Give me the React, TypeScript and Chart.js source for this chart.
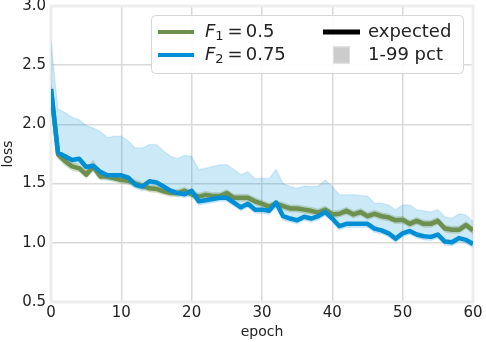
import React, { useEffect, useRef } from "react";
import { Chart, registerables } from "chart.js";
Chart.register(...registerables);

const epochs = [0,1,2,3,4,5,6,7,8,9,10,11,12,13,14,15,16,17,18,19,20,21,22,23,24,25,26,27,28,29,30,31,32,33,34,35,36,37,38,39,40,41,42,43,44,45,46,47,48,49,50,51,52,53,54,55,56,57,58,59,60];

const lossF1 = [2.30,1.745,1.69,1.645,1.63,1.575,1.645,1.56,1.56,1.545,1.53,1.525,1.50,1.48,1.46,1.455,1.435,1.42,1.42,1.44,1.41,1.39,1.405,1.395,1.395,1.42,1.38,1.38,1.38,1.35,1.33,1.305,1.33,1.31,1.29,1.29,1.28,1.27,1.255,1.28,1.24,1.245,1.27,1.24,1.26,1.225,1.245,1.225,1.215,1.19,1.195,1.16,1.185,1.16,1.16,1.185,1.12,1.11,1.11,1.15,1.105];
const lossF1Low = [2.27,1.71,1.65,1.61,1.60,1.545,1.60,1.53,1.53,1.515,1.50,1.495,1.47,1.45,1.43,1.425,1.405,1.39,1.39,1.41,1.38,1.36,1.375,1.365,1.365,1.39,1.35,1.35,1.35,1.32,1.30,1.275,1.30,1.28,1.26,1.26,1.25,1.24,1.225,1.25,1.21,1.215,1.24,1.21,1.23,1.195,1.215,1.195,1.185,1.16,1.165,1.13,1.155,1.13,1.13,1.155,1.09,1.08,1.08,1.12,1.075];
const lossF1High = [2.33,1.78,1.72,1.68,1.66,1.61,1.70,1.59,1.59,1.575,1.56,1.555,1.53,1.51,1.49,1.485,1.465,1.45,1.45,1.47,1.44,1.42,1.435,1.425,1.425,1.45,1.41,1.41,1.41,1.38,1.36,1.335,1.36,1.34,1.32,1.32,1.31,1.30,1.285,1.31,1.27,1.275,1.30,1.27,1.29,1.255,1.275,1.255,1.245,1.22,1.225,1.19,1.215,1.19,1.19,1.215,1.15,1.14,1.14,1.18,1.135];

const lossF2 = [2.30,1.76,1.73,1.70,1.71,1.64,1.65,1.60,1.57,1.57,1.57,1.55,1.49,1.475,1.52,1.51,1.475,1.44,1.42,1.41,1.44,1.35,1.36,1.37,1.38,1.38,1.34,1.30,1.33,1.28,1.28,1.27,1.34,1.225,1.205,1.19,1.22,1.205,1.225,1.26,1.205,1.14,1.16,1.16,1.16,1.16,1.12,1.105,1.08,1.035,1.08,1.10,1.07,1.055,1.05,1.07,1.01,1.005,1.04,1.025,0.99];
const lossF2Low = [2.27,1.72,1.69,1.66,1.67,1.60,1.61,1.56,1.53,1.53,1.53,1.51,1.46,1.44,1.48,1.47,1.44,1.41,1.39,1.38,1.40,1.32,1.33,1.34,1.35,1.35,1.31,1.27,1.30,1.25,1.25,1.24,1.30,1.19,1.175,1.16,1.19,1.175,1.195,1.23,1.175,1.11,1.13,1.13,1.13,1.13,1.09,1.075,1.05,1.005,1.05,1.07,1.04,1.025,1.02,1.04,0.98,0.975,1.01,0.995,0.96];
const lossF2High = [2.70,2.13,2.10,2.06,2.04,1.99,1.97,1.94,1.89,1.90,1.90,1.86,1.80,1.80,1.83,1.83,1.775,1.73,1.71,1.74,1.73,1.62,1.63,1.645,1.66,1.66,1.62,1.575,1.60,1.54,1.545,1.54,1.62,1.50,1.475,1.46,1.48,1.475,1.48,1.53,1.475,1.405,1.405,1.405,1.40,1.395,1.335,1.335,1.32,1.28,1.32,1.32,1.28,1.27,1.26,1.28,1.22,1.205,1.245,1.235,1.18];

const xTicks = [0, 10, 20, 30, 40, 50, 60];
const yTicks = [0.5, 1.0, 1.5, 2.0, 2.5, 3.0];
const seriesNames = ["F1", "F2"];
const seriesSubs = ["1", "2"];
const seriesValues = ["0.5", "0.75"];
const extraLabels = ["expected", "1-99 pct"];

const BLUE = "#008fd5";
const GREEN = "#6d904f";
const FONT = "DejaVu Sans";

const pts = (ys: number[]) => ys.map((y, i) => ({ x: epochs[i], y }));

const framePlugin = {
  id: "frame",
  beforeDatasetsDraw(chart: any) {
    const { ctx, chartArea: a } = chart;
    ctx.save();
    ctx.strokeStyle = "#ededed";
    ctx.lineWidth = 3;
    ctx.strokeRect(a.left, a.top, a.right - a.left, a.bottom - a.top);
    ctx.restore();
  },
};

const legendPlugin = {
  id: "customLegend",
  afterDraw(chart: any) {
    const { ctx, chartArea: a } = chart;
    ctx.save();
    const w = 312, h = 58;
    const x = a.right - 10 - w;
    const y = a.top + 9;
    ctx.beginPath();
    (ctx as any).roundRect(x + 0.5, y + 0.5, w, h, 4);
    ctx.fillStyle = "rgba(255,255,255,0.92)";
    ctx.fill();
    ctx.strokeStyle = "#d6d6d6";
    ctx.lineWidth = 1;
    ctx.stroke();

    const rows = [y + 17, y + 40];
    const colors = [GREEN, BLUE];
    ctx.textBaseline = "middle";
    for (let i = 0; i < 2; i++) {
      const ry = rows[i];
      ctx.strokeStyle = colors[i];
      ctx.lineWidth = 4;
      ctx.beginPath();
      ctx.moveTo(x + 7, ry);
      ctx.lineTo(x + 43, ry);
      ctx.stroke();
      let tx = x + 54;
      ctx.fillStyle = "#222";
      ctx.font = `italic 18px ${FONT}`;
      const f = seriesNames[i].charAt(0);
      ctx.fillText(f, tx, ry);
      tx += ctx.measureText(f).width;
      ctx.font = `13px ${FONT}`;
      ctx.fillText(seriesSubs[i], tx, ry + 5);
      tx += ctx.measureText(seriesSubs[i]).width + 4;
      ctx.font = `18px ${FONT}`;
      ctx.fillText("=", tx, ry);
      tx += ctx.measureText("=").width + 3;
      ctx.fillText(seriesValues[i], tx, ry);
    }
    // expected
    ctx.strokeStyle = "#000";
    ctx.lineWidth = 5;
    ctx.beginPath();
    ctx.moveTo(x + 172, rows[0]);
    ctx.lineTo(x + 209, rows[0]);
    ctx.stroke();
    ctx.fillStyle = "#222";
    ctx.font = `18px ${FONT}`;
    ctx.fillText(extraLabels[0], x + 217, rows[0]);
    // pct patch
    ctx.fillStyle = "#cccccc";
    ctx.fillRect(x + 182, rows[1] - 8.5, 17, 17);
    ctx.strokeStyle = "#dddddd";
    ctx.lineWidth = 1;
    ctx.strokeRect(x + 182.5, rows[1] - 8, 16, 16);
    ctx.fillStyle = "#222";
    ctx.fillText(extraLabels[1], x + 217, rows[1]);
    ctx.restore();
  },
};

export default function App() {
  const ref = useRef<HTMLCanvasElement | null>(null);
  useEffect(() => {
    document.body.style.margin = "0";
    const canvas = ref.current!;
    const chart = new Chart(canvas, {
      type: "line",
      data: {
        datasets: [
          { label: "F2 line", data: pts(lossF2), borderColor: BLUE, borderWidth: 4.5, fill: false, order: 0 } as any,
          { label: "F1 line", data: pts(lossF1), borderColor: GREEN, borderWidth: 4.5, fill: false, order: 1 },
          { label: "F1 high", data: pts(lossF1High), borderColor: "rgba(109,144,79,0.15)", borderWidth: 1, backgroundColor: "rgba(109,144,79,0.28)", fill: "+1", order: 2 },
          { label: "F1 low", data: pts(lossF1Low), borderColor: "rgba(109,144,79,0.15)", borderWidth: 1, fill: false, order: 3 },
          { label: "F2 high", data: pts(lossF2High), borderColor: "rgba(0,143,213,0.12)", borderWidth: 1.5, backgroundColor: "rgba(0,143,213,0.2)", fill: "+1", order: 4 },
          { label: "F2 low", data: pts(lossF2Low), borderColor: "rgba(0,143,213,0.12)", borderWidth: 1.5, fill: false, order: 5 },
        ],
      },
      options: {
        animation: false,
        responsive: false,
        layout: { padding: { top: 6, right: 13, left: 0, bottom: 0 } },
        plugins: { legend: { display: false }, tooltip: { enabled: false } },
        elements: { point: { radius: 0 }, line: { tension: 0, borderJoinStyle: "round", borderCapStyle: "butt" } },
        scales: {
          x: {
            type: "linear",
            min: 0,
            max: 60,
            afterBuildTicks: (s: any) => { s.ticks = xTicks.map((v) => ({ value: v })); },
            ticks: { font: { family: FONT, size: 15 }, color: "#222", padding: 2, callback: (v: any) => String(v) },
            grid: { color: "#d9d9d9", lineWidth: 1.5, drawTicks: false },
            border: { display: false },
            title: { display: true, text: "epoch", font: { family: FONT, size: 14 }, color: "#222", padding: { top: 0, bottom: 1 } },
            afterFit: (s: any) => { s.height = 40; s.paddingLeft = 0; s.paddingRight = 0; },
          },
          y: {
            min: 0.5,
            max: 3.0,
            afterBuildTicks: (s: any) => { s.ticks = yTicks.map((v) => ({ value: v })); },
            ticks: { font: { family: FONT, size: 15 }, color: "#222", padding: 5, callback: (v: any) => Number(v).toFixed(1) },
            grid: { color: "#d9d9d9", lineWidth: 1.5, drawTicks: false },
            border: { display: false },
            title: { display: true, text: "loss", font: { family: FONT, size: 14 }, color: "#222", padding: { top: 0, bottom: 0 } },
            afterFit: (s: any) => { s.width = 51; s.paddingTop = 0; s.paddingBottom = 0; },
          },
        },
      },
      plugins: [framePlugin, legendPlugin],
    } as any);
    return () => chart.destroy();
  }, []);
  return (
    <div style={{ width: 486, height: 342 }}>
      <canvas ref={ref} width={486} height={342} style={{ width: 486, height: 342, display: "block" }} />
    </div>
  );
}
